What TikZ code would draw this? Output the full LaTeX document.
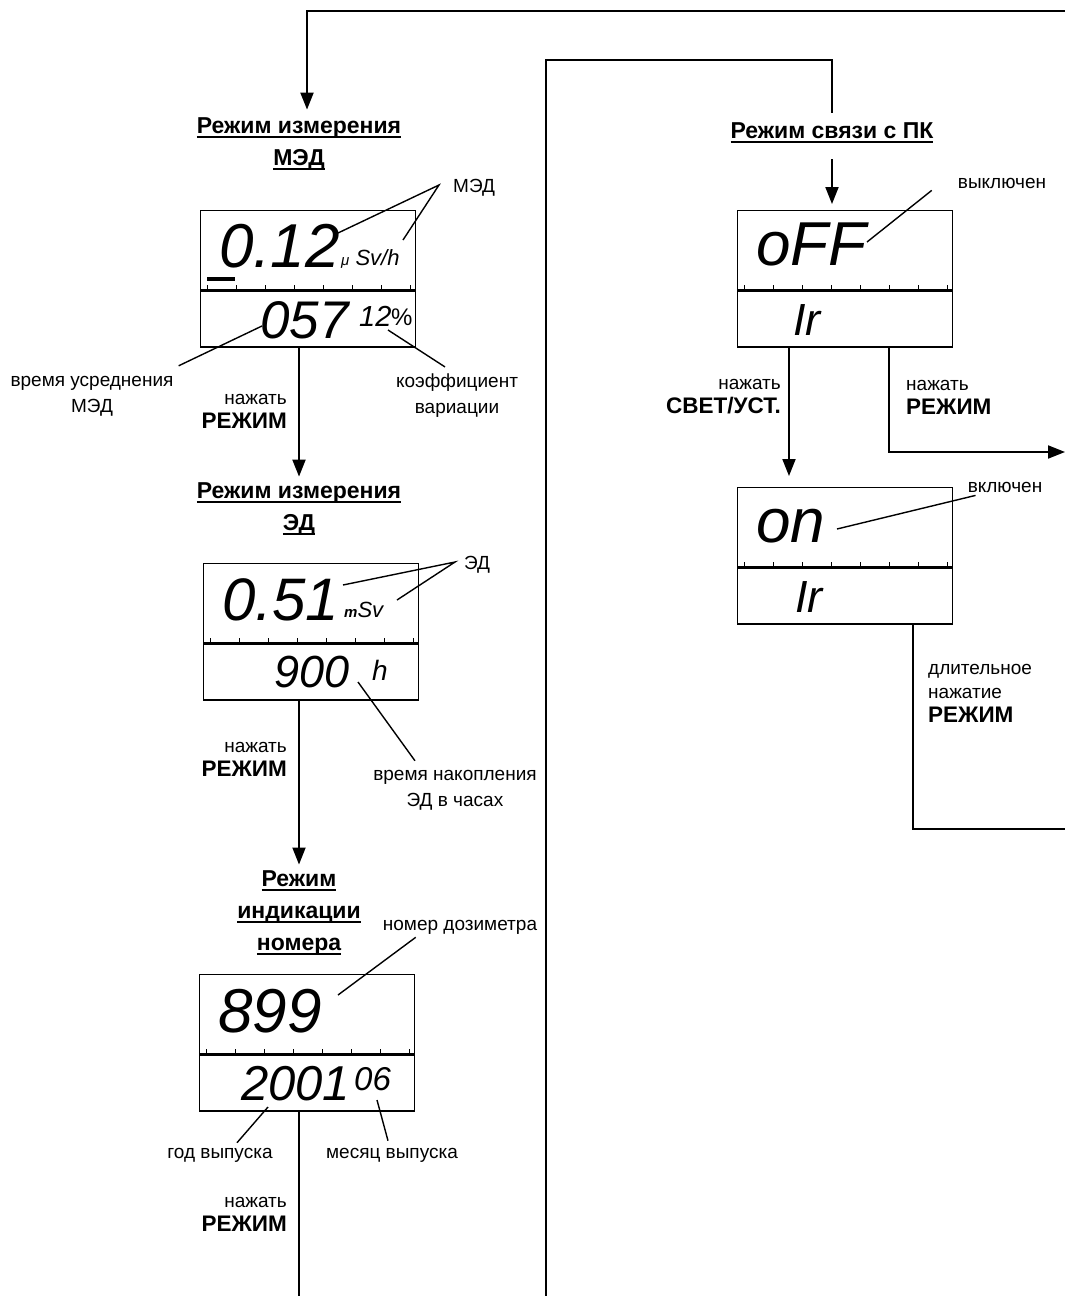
\documentclass[tikz,border=0pt]{standalone}
\usepackage{fontspec}
\setmainfont{Liberation Sans}
\usetikzlibrary{positioning, arrows.meta, calc}
\newcommand{\keyfont}{\bfseries\fontsize{22.5}{24}\selectfont}
\newsavebox{\undlbox}
\newcommand{\undl}[1]{\sbox{\undlbox}{#1}\rlap{\rule[-4pt]{\wd\undlbox}{1.6pt}}\usebox{\undlbox}}

\begin{document}
\begin{tikzpicture}[x=1pt, y=-1pt,
    conn/.style={line width=1.9pt},
    arr/.style={conn, -{Triangle[length=17pt, width=13pt]}},
    lead/.style={line width=1.4pt},
    lcdup/.style={draw, line width=1.4pt, minimum width=215pt, minimum height=79pt,
                  inner sep=0pt, anchor=north west},
    lcdlow/.style={draw, line width=1.4pt, minimum width=215pt, minimum height=56pt,
                  inner sep=0pt, anchor=north},
    lcd/.style={font=\itshape\fontsize{#1}{#1}\selectfont, inner sep=0pt, anchor=base west},
    title/.style={font=\bfseries\fontsize{23}{32}\selectfont, align=center, inner sep=2pt},
    note/.style={font=\fontsize{19}{26}\selectfont, align=center, inner sep=1pt},
    key/.style={font=\fontsize{19}{24}\selectfont, inner sep=1pt}
  ]
  \useasboundingbox (0,0) rectangle (1065,1296);

  % Dose rate mode
  \node[title] (t1) at (299,144) {\undl{Режим измерения}\\\undl{МЭД}};
  \node[lcdup] (medU) at (200,210) {};
  \node[lcdlow] (medL) at (medU.south) {};
  \node[lcd=62] (medV) at (219,267) {0.12};
  \node[font=\itshape\fontsize{22}{22}\selectfont, inner sep=0pt, anchor=base west] (medUnit)
    at (341,265) {{\fontsize{15}{15}\selectfont μ} Sv/h};
  \draw[line width=4pt] (207,279) -- (235,279);
  \node[lcd=53] (medT) at (260,338) {057};
  \node[lcd=29] (medK) at (359,326) {12};
  \node[font=\fontsize{24}{24}\selectfont, inner sep=0pt, anchor=base west] (medP) at (391,325) {\%};
  \node[note, anchor=west] (medLbl) at (452,188) {МЭД};
  \node[note] (avgLbl) at (92,396) {время усреднения\\МЭД};
  \node[note] (cvLbl) at (457,396) {коэффициент\\вариации};
  \node[key, align=right, anchor=east] (modeA) at (288,411) {нажать\\\keyfont РЕЖИМ};

  % Dose mode
  \node[title] (t2) at (299,509) {\undl{Режим измерения}\\\undl{ЭД}};
  \node[lcdup] (edU) at (203,563) {};
  \node[lcdlow] (edL) at (edU.south) {};
  \node[lcd=60] (edV) at (222,620) {0.51};
  \node[font=\itshape\fontsize{22}{22}\selectfont, inner sep=0pt, anchor=base west] (edUnit)
    at (344,617) {{\bfseries\fontsize{15}{15}\selectfont m}Sv};
  \node[lcd=45] (edT) at (274,687) {900};
  \node[lcd=28] (edH) at (372,680) {h};
  \node[note, anchor=west] (edLbl) at (463,565) {ЭД};
  \node[note] (accLbl) at (455,790) {время накопления\\ЭД в часах};
  \node[key, align=right, anchor=east] (modeB) at (288,759) {нажать\\\keyfont РЕЖИМ};

  % Number mode
  \node[title] (t3) at (299,913) {\undl{Режим}\\\undl{индикации}\\\undl{номера}};
  \node[lcdup] (numU) at (199,974) {};
  \node[lcdlow] (numL) at (numU.south) {};
  \node[lcd=62] (numV) at (218,1032) {899};
  \node[lcd=49] (numY) at (241,1100) {2001};
  \node[lcd=33] (numM) at (354,1090) {06};
  \node[note] (numLbl) at (460,927) {номер дозиметра};
  \node[note] (yearLbl) at (220,1155) {год выпуска};
  \node[note] (monLbl) at (392,1155) {месяц выпуска};
  \node[key, align=right, anchor=east] (modeC) at (288,1214) {нажать\\\keyfont РЕЖИМ};

  % PC link mode
  \node[title] (pcT) at (832,133) {\undl{Режим связи с ПК}};
  \node[lcdup] (offU) at (737,210) {};
  \node[lcdlow] (offL) at (offU.south) {};
  \node[lcd=62] (offV) at (756,265) {oFF};
  \node[lcd=45] (offI) at (793,335) {Ir};
  \node[note] (offLbl) at (1002,183) {выключен};
  \node[lcdup] (onU) at (737,487) {};
  \node[lcdlow] (onL) at (onU.south) {};
  \node[lcd=62] (onV) at (756,542) {on};
  \node[lcd=45] (onI) at (795,612) {Ir};
  \node[note] (onLbl) at (1005,487) {включен};
  \node[key, align=right, anchor=east] (setKey) at (782,397) {нажать\\\keyfont СВЕТ/УСТ.};
  \node[key, align=left, anchor=west] (modeD) at (905,397) {нажать\\\keyfont РЕЖИМ};
  \node[key, align=left, anchor=west] (modeE) at (927,693) {длительное\\нажатие\\\keyfont РЕЖИМ};

  % Scale ticks on the displays
  \foreach \u in {medU, edU, numU, offU, onU} {
    \draw[line width=2pt] (\u.south west) -- (\u.south east);
    \foreach \k in {0,...,7}
      \draw[line width=1pt] ($(\u.south west)+(7+29*\k,0)$) -- ++(0,-5);
  }

  % Leader lines
  \coordinate (medA) at (338,233);
  \coordinate (medB) at (403,240);
  \coordinate (avgA) at (262,326);
  \coordinate (cvA) at (388,330);
  \coordinate (edA) at (343,585);
  \coordinate (edB) at (397,600);
  \coordinate (accA) at (358,682);
  \coordinate (numA) at (338,995);
  \coordinate (yearA) at (268,1107);
  \coordinate (monA) at (377,1100);
  \coordinate (offA) at (867,242);
  \coordinate (onA) at (837,529);
  \draw[lead] (medA) -- ($(medLbl.west)+(-13,-3)$) -- (medB);
  \draw[lead] (avgA) -- ($(avgLbl.north east)+(4,-9)$);
  \draw[lead] (cvA) -- ($(cvLbl.north)+(-12,-6)$);
  \draw[lead] (edA) -- ($(edLbl.west)+(-8,-3)$) -- (edB);
  \draw[lead] (accA) -- ($(accLbl.north)+(-40,-8)$);
  \draw[lead] (numA) -- ($(numLbl.south west)+(34,2)$);
  \draw[lead] (yearA) -- ($(yearLbl.north)+(17,-4)$);
  \draw[lead] (monA) -- ($(monLbl.north)+(-4,-6)$);
  \draw[lead] (offA) -- ($(offLbl.south west)+(-25,1)$);
  \draw[lead] (onA) -- ($(onLbl.south west)+(9,2)$);

  % Mode transitions
  \coordinate (loopR) at (1065,11);
  \draw[arr, shorten >=6pt] (loopR) -| ([xshift=8pt]t1.north);
  \draw[arr, shorten >=4pt] (medL.south -| t2.north) -- (t2.north);
  \draw[arr, shorten >=4pt] (edL.south -| t3.north) -- (t3.north);
  \coordinate (leftEnd) at (299,1296);
  \draw[conn] (numL.south -| leftEnd) -- (leftEnd);
  \coordinate (midEnd) at (546,1296);
  \coordinate (midTop) at (546,60);
  \draw[conn, shorten >=8pt] (midEnd) -- (midTop) -| (pcT.north);
  \draw[arr, shorten >=6pt] ([yshift=-14pt]pcT.south) -- (offU.north -| pcT.south);
  \draw[arr, shorten >=11pt] ($(offL.south west)+(52,0)$) -- ($(onU.north west)+(52,0)$);
  \coordinate (exitA) at (1065,452);
  \draw[arr] ($(offL.south west)+(152,0)$) |- (exitA);
  \coordinate (exitB) at (1065,829);
  \draw[conn] ($(onL.south west)+(176,0)$) |- (exitB);
\end{tikzpicture}
\end{document}
